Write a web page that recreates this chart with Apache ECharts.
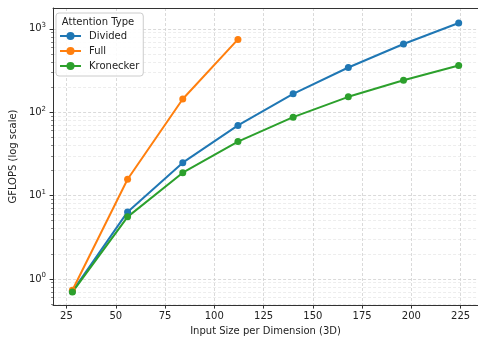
<!DOCTYPE html>
<html>
<head>
<meta charset="utf-8">
<script src="https://cdn.jsdelivr.net/npm/echarts@6/dist/echarts.min.js"></script>
<style>
  html, body { margin: 0; padding: 0; background: #fff; }
  #chart { width: 478px; height: 341px; }
</style>
</head>
<body>
<div id="chart"></div>
<script>
// 数据
var sizes = [28, 56, 84, 112, 140, 168, 196, 224];
var divided = [0.71, 6.36, 24.8, 69.5, 166, 344, 659, 1177];
var full = [0.73, 15.7, 144, 748];
var kronecker = [0.695, 5.55, 18.8, 44.4, 87.3, 153, 242, 363];

var xTicks = [25, 50, 75, 100, 125, 150, 175, 200, 225];
var yTicks = [1, 10, 100, 1000];
var yMinorTicks = [0.5, 0.6, 0.7, 0.8, 0.9,
  2, 3, 4, 5, 6, 7, 8, 9,
  20, 30, 40, 50, 60, 70, 80, 90,
  200, 300, 400, 500, 600, 700, 800, 900];

var xMin = 18.2, xMax = 233.8;
var yMin = 0.485, yMax = 1780;

var font = 'DejaVu Sans';

function pairs(ys) {
  return ys.map(function (v, i) { return [sizes[i], v]; });
}
function logs(arr) {
  return arr.map(function (v) { return Math.log10(v); });
}

var chart = echarts.init(document.getElementById('chart'));

var gridDash = [3, 2];

var option = {
  animation: false,
  backgroundColor: '#fff',
  textStyle: { fontFamily: font },
  grid: { left: 51, top: 8, width: 435.5, height: 302 },
  legend: {
    orient: 'vertical',
    left: 56,
    top: 13,
    padding: [18, 4, 5, 3],
    itemWidth: 21,
    itemHeight: 10,
    itemGap: 5,
    backgroundColor: 'rgba(255,255,255,0.85)',
    borderColor: '#cccccc',
    borderWidth: 1,
    borderRadius: 3,
    textStyle: { fontFamily: font, fontSize: 10, color: '#222', padding: [0, 0, 0, 3] },
    data: ['Divided', 'Full', 'Kronecker']
  },
  graphic: [{
    type: 'text',
    x: 98,
    y: 22,
    z: 100,
    style: {
      text: 'Attention Type',
      fontFamily: font,
      fontSize: 10,
      fill: '#222',
      align: 'center',
      verticalAlign: 'middle'
    }
  }],
  xAxis: [{
    type: 'value',
    min: xMin,
    max: xMax,
    name: 'Input Size per Dimension (3D)',
    nameLocation: 'middle',
    nameGap: 20,
    nameTextStyle: { fontFamily: font, fontSize: 10, color: '#222' },
    axisLine: { onZero: false, lineStyle: { color: '#333', width: 1 } },
    axisTick: { customValues: xTicks, length: 3.5, lineStyle: { color: '#333' } },
    axisLabel: { customValues: xTicks, margin: 6, fontFamily: font, fontSize: 10, color: '#222' },
    splitLine: { show: true, lineStyle: { color: '#d0d0d0', type: gridDash, width: 0.8 } }
  }, {
    type: 'value',
    position: 'top',
    min: xMin,
    max: xMax,
    axisLine: { show: true, onZero: false, lineStyle: { color: '#333', width: 1 } },
    axisTick: { show: false },
    axisLabel: { show: false },
    splitLine: { show: false }
  }],
  yAxis: [{
    // 数据轴 (log)
    type: 'log',
    logBase: 10,
    min: yMin,
    max: yMax,
    show: false
  }, {
    // 次刻度 + 次网格
    type: 'value',
    position: 'left',
    min: Math.log10(yMin),
    max: Math.log10(yMax),
    axisLine: { show: false, onZero: false },
    axisTick: { show: true, customValues: logs(yMinorTicks), length: 2, lineStyle: { color: '#333', width: 0.6 } },
    axisLabel: { show: false },
    splitLine: { show: true, lineStyle: { color: '#e0e0e0', type: gridDash, width: 0.6 } }
  }, {
    // 主刻度 + 主网格
    type: 'value',
    position: 'left',
    min: Math.log10(yMin),
    max: Math.log10(yMax),
    name: 'GFLOPS (log scale)',
    nameLocation: 'middle',
    nameGap: 28,
    nameTextStyle: { fontFamily: font, fontSize: 10, color: '#222' },
    axisLine: { show: true, onZero: false, lineStyle: { color: '#333', width: 1 } },
    axisTick: { show: true, customValues: logs(yTicks), length: 3.5, lineStyle: { color: '#333' } },
    axisLabel: {
      customValues: logs(yTicks),
      margin: 7,
      formatter: function (v) {
        return '{b|10}{s|' + Math.round(v) + '}';
      },
      rich: {
        b: { fontFamily: font, fontSize: 10, color: '#222', lineHeight: 14 },
        s: { fontFamily: font, fontSize: 7, color: '#222', verticalAlign: 'top', padding: [0, 0, 6, 0] }
      }
    },
    splitLine: { show: true, lineStyle: { color: '#d0d0d0', type: gridDash, width: 0.8 } }
  }],
  series: [{
    name: 'Divided',
    type: 'line',
    yAxisIndex: 0,
    data: pairs(divided),
    symbol: 'circle',
    symbolSize: 7,
    color: '#1f77b4',
    lineStyle: { width: 2 }
  }, {
    name: 'Full',
    type: 'line',
    yAxisIndex: 0,
    data: pairs(full),
    symbol: 'circle',
    symbolSize: 7,
    color: '#ff7f0e',
    lineStyle: { width: 2 }
  }, {
    name: 'Kronecker',
    type: 'line',
    yAxisIndex: 0,
    data: pairs(kronecker),
    symbol: 'circle',
    symbolSize: 7,
    color: '#2ca02c',
    lineStyle: { width: 2 }
  }]
};

chart.setOption(option);
</script>
</body>
</html>
